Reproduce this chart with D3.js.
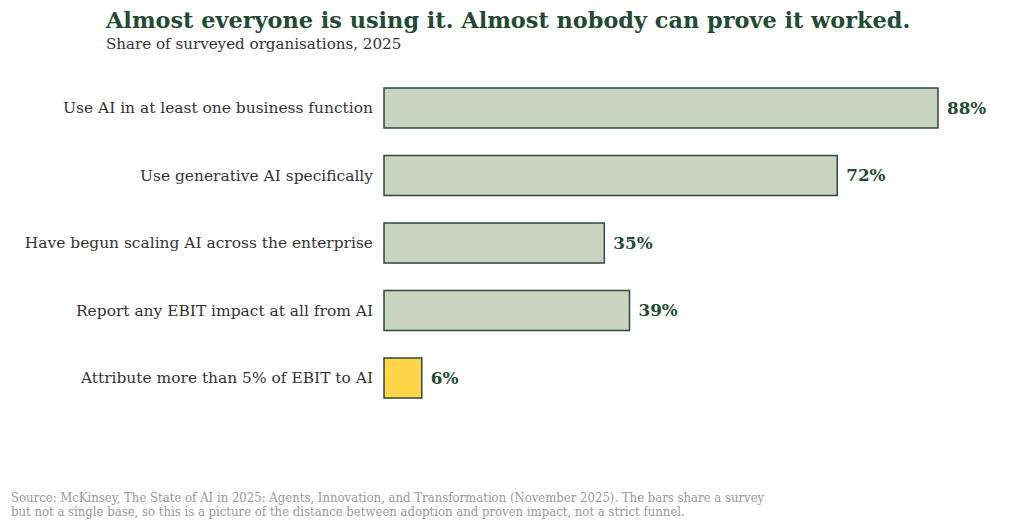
<!DOCTYPE html>
<html><head><meta charset="utf-8">
<script src="https://cdn.jsdelivr.net/npm/d3@7"></script>
<style>body{margin:0;background:#fff}svg{display:block}</style>
</head><body>
<svg id="c" width="1024" height="529"></svg>
<script>
const categories = [
  "Use AI in at least one business function",
  "Use generative AI specifically",
  "Have begun scaling AI across the enterprise",
  "Report any EBIT impact at all from AI",
  "Attribute more than 5% of EBIT to AI"
];
const values = [88, 72, 35, 39, 6];
const highlight = [false, false, false, false, true];
const title = "Almost everyone is using it. Almost nobody can prove it worked.";
const subtitle = "Share of surveyed organisations, 2025";
const footer = [
  "Source: McKinsey, The State of AI in 2025: Agents, Innovation, and Transformation (November 2025). The bars share a survey",
  "but not a single base, so this is a picture of the distance between adoption and proven impact, not a strict funnel."
];

const svg = d3.select("#c");
const font = "DejaVu Serif";
const green = "#234a37";

const x = d3.scaleLinear().domain([0, 100]).range([384, 1013.5]);
const y = d3.scaleBand().domain(categories).range([74.25, 411.75]).paddingInner(27.5/67.5).paddingOuter(13.75/67.5);

svg.append("text").attr("x",106).attr("y",28).attr("font-family",font).attr("font-weight","bold")
  .attr("font-size",22.4).attr("fill",green).text(title);
svg.append("text").attr("x",106).attr("y",49).attr("font-family",font)
  .attr("font-size",15.1).attr("fill","#333").text(subtitle);

const g = svg.append("g");
g.selectAll("rect").data(categories).join("rect")
  .attr("x", x(0)).attr("y", d=>y(d))
  .attr("width", (d,i)=>x(values[i])-x(0)).attr("height", y.bandwidth())
  .attr("fill", (d,i)=>highlight[i] ? "#fdd64a" : "#c8d4c0")
  .attr("stroke", "#2d4a3a").attr("stroke-width", 1.5);

g.selectAll("text.cat").data(categories).join("text").attr("class","cat")
  .attr("x", 373).attr("y", d=>y(d)+y.bandwidth()/2).attr("dy","0.35em")
  .attr("text-anchor","end").attr("font-family",font).attr("font-size",15.45)
  .attr("fill","#333").text(d=>d);

g.selectAll("text.val").data(categories).join("text").attr("class","val")
  .attr("x", (d,i)=>x(values[i])+9).attr("y", d=>y(d)+y.bandwidth()/2).attr("dy","0.35em")
  .attr("font-family",font).attr("font-size",16.8).attr("font-weight","bold")
  .attr("fill",green).text((d,i)=>values[i]+"%");

svg.selectAll("text.foot").data(footer).join("text").attr("class","foot")
  .attr("x",11).attr("y",(d,i)=>502+i*13.5).attr("font-family",font)
  .attr("font-stretch","condensed").attr("font-size",13).attr("fill","#999").text(d=>d);
</script>
</body></html>
